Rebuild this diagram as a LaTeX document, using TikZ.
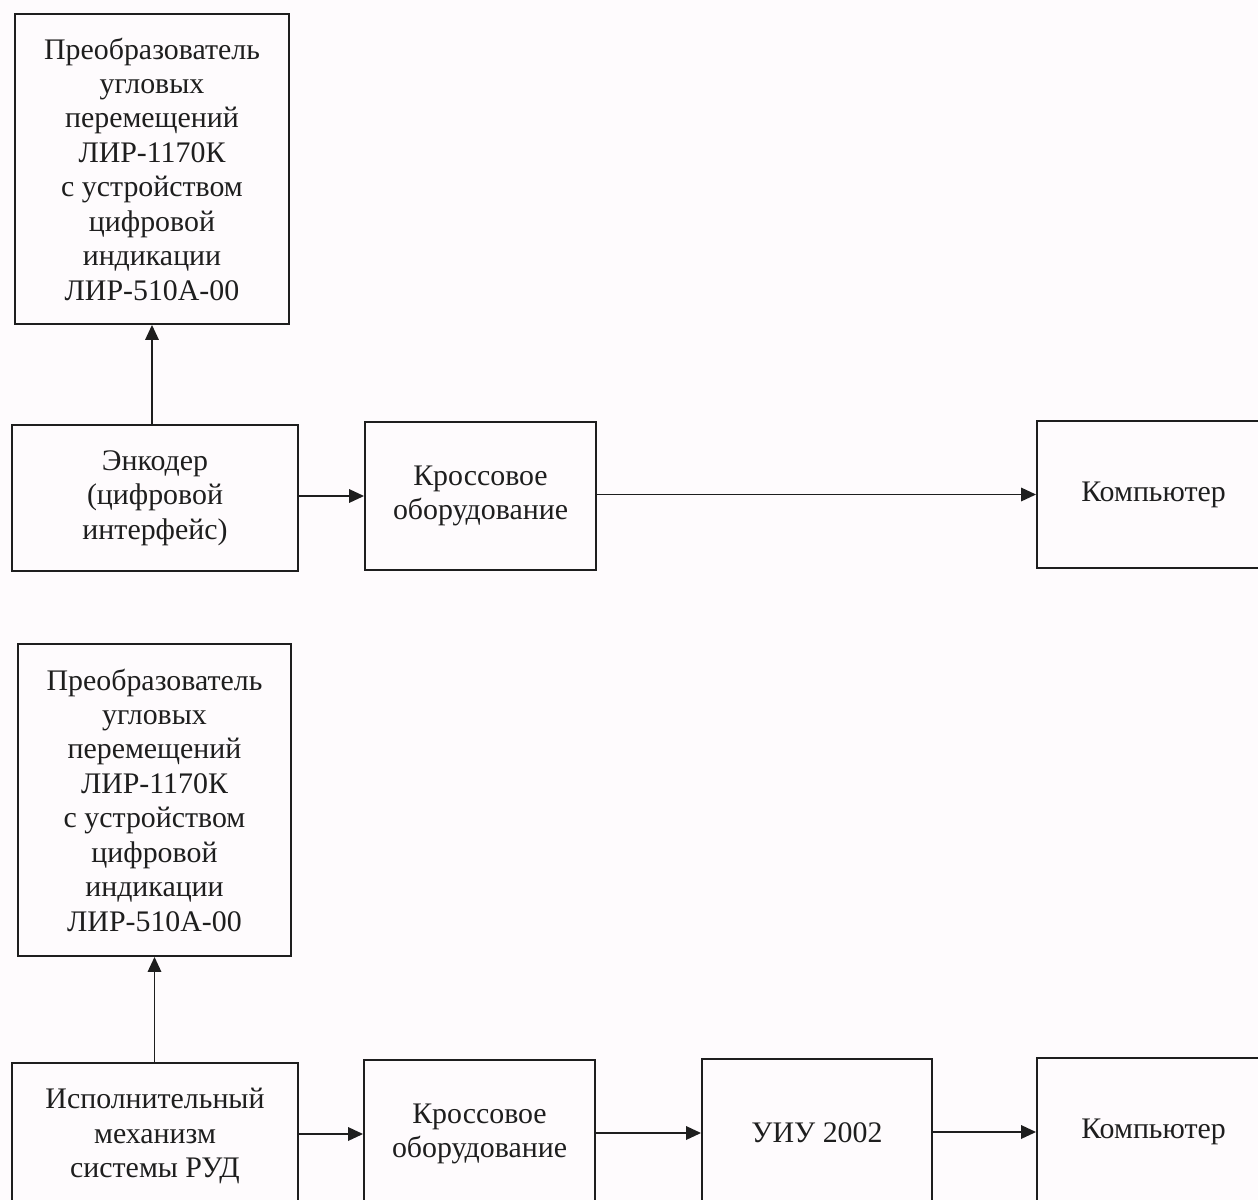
\documentclass[tikz,border=0pt]{standalone}
\usepackage{fontspec}
\setmainfont{Liberation Serif}
\usetikzlibrary{arrows.meta,positioning}
\definecolor{paper}{RGB}{254,251,253}
\definecolor{ink}{RGB}{30,30,30}

\begin{document}
\begin{tikzpicture}[x=0.02cm, y=-0.02cm,
	blk/.style = {draw=ink, line width=1.1pt, align=center, inner sep=0pt, text=ink,
		font=\fontsize{17}{19.6}\selectfont},
	arr/.style = {draw=ink, line width=1pt, -{Triangle[length=0.3cm, width=0.27cm]}}]
	\fill[paper] (0,0) rectangle (1258,1200);
	\useasboundingbox (0,0) rectangle (1258,1200);
	% first scheme
	\node[blk, minimum width=5.48cm, minimum height=6.2cm] (conv1) at (152,169)
		{Преобразователь\\угловых\\перемещений\\ЛИР-1170К\\с устройством\\цифровой\\индикации\\ЛИР-510А-00};
	\node[blk, minimum width=5.72cm, minimum height=2.92cm] (enc) at (155,498)
		{Энкодер\\(цифровой\\интерфейс)};
	\node[blk, minimum width=4.62cm, minimum height=2.96cm] (cross1) at (480.5,496)
		{Кроссовое\\оборудование};
	\node[blk, minimum width=4.66cm, minimum height=2.94cm] (pc1) at (1153.5,494.5)
		{Компьютер};
	\draw[arr] (enc.north -| conv1.south) -- (conv1.south);
	\draw[arr] (enc.east |- cross1.west) -- (cross1.west);
	\draw[arr] (cross1.east |- pc1.west) -- (pc1.west);
	% second scheme
	\node[blk, minimum width=5.46cm, minimum height=6.24cm] (conv2) at (154.5,800)
		{Преобразователь\\угловых\\перемещений\\ЛИР-1170К\\с устройством\\цифровой\\индикации\\ЛИР-510А-00};
	\node[blk, minimum width=5.72cm, minimum height=2.92cm] (act) at (155,1136)
		{Исполнительный\\механизм\\системы РУД};
	\node[blk, minimum width=4.62cm, minimum height=2.96cm] (cross2) at (479.5,1134)
		{Кроссовое\\оборудование};
	\node[blk, minimum width=4.6cm, minimum height=2.96cm] (uiu) at (817,1133)
		{УИУ 2002};
	\node[blk, minimum width=4.66cm, minimum height=2.96cm] (pc2) at (1153.5,1132)
		{Компьютер};
	\draw[arr] (act.north -| conv2.south) -- (conv2.south);
	\draw[arr] (act.east |- cross2.west) -- (cross2.west);
	\draw[arr] (cross2.east |- uiu.west) -- (uiu.west);
	\draw[arr] (uiu.east |- pc2.west) -- (pc2.west);
\end{tikzpicture}
\end{document}
